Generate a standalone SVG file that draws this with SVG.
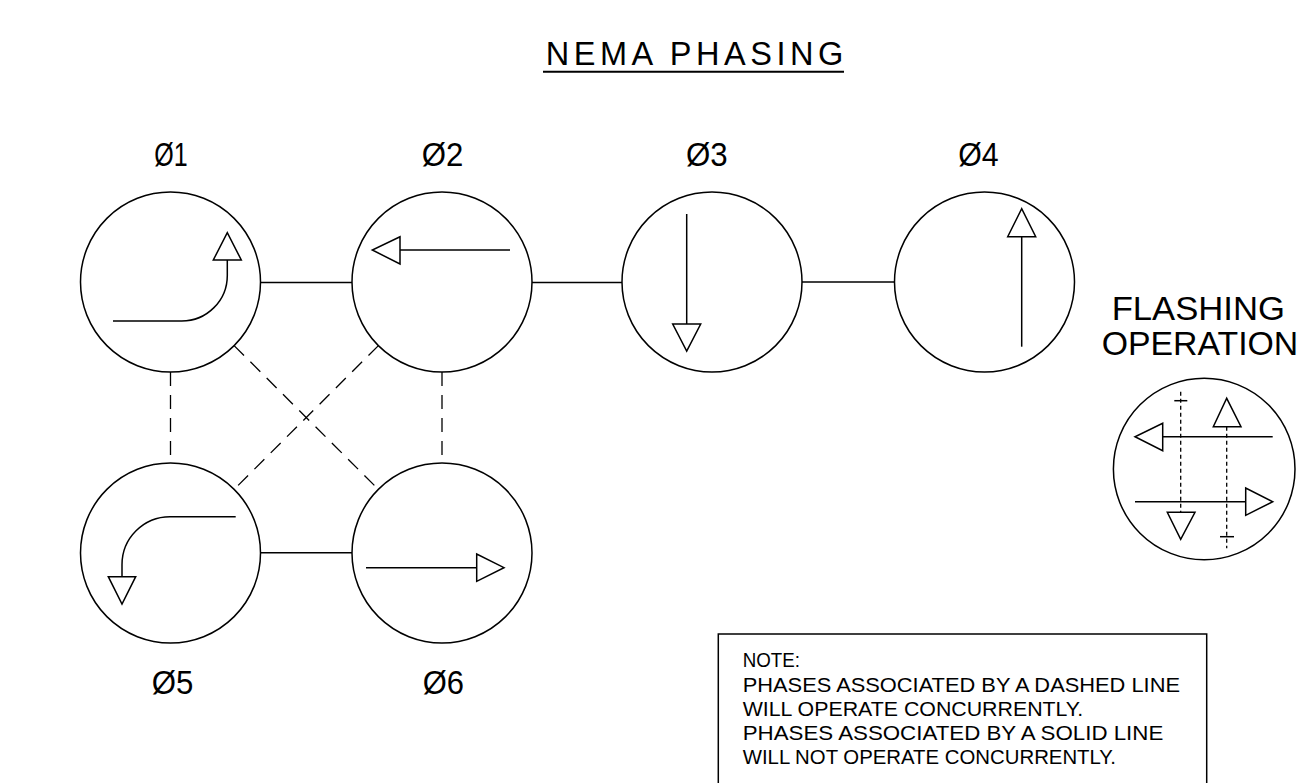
<svg xmlns="http://www.w3.org/2000/svg" width="1315" height="783" viewBox="0 0 1315 783">
<style>
.s{fill:none;stroke:#000;stroke-width:1.5}
.d{fill:none;stroke:#000;stroke-width:1.3;stroke-dasharray:14 9}
.fd{fill:none;stroke:#000;stroke-width:1.3;stroke-dasharray:4 3}
.h{fill:#fff;stroke:#000;stroke-width:1.5;stroke-linejoin:miter}
.lbl{font-family:"Liberation Sans",Arial,sans-serif;font-size:34px;fill:#000}
.note{font-family:"Liberation Sans",Arial,sans-serif;font-size:21px;fill:#000}
</style>
<rect width="1315" height="783" fill="#fff"/>
<g id="title">
<text x="545.7" y="65" font-family="Liberation Sans,Arial,sans-serif" font-size="32.5" textLength="297.6" lengthAdjust="spacing">NEMA PHASING</text>
<line x1="543" y1="71.7" x2="844" y2="71.7" stroke="#000" stroke-width="2"/>
</g>
<g id="connectors">
<line class="s" x1="261" y1="282.5" x2="352" y2="282.5"/>
<line class="s" x1="532" y1="282.5" x2="622" y2="282.5"/>
<line class="s" x1="802" y1="282" x2="894" y2="282"/>
<line class="s" x1="261" y1="552.7" x2="352" y2="552.7"/>
<line class="d" x1="170.5" y1="372" x2="170.5" y2="463"/>
<line class="d" x1="442" y1="372" x2="442" y2="463"/>
<line class="d" x1="234.1" y1="345.6" x2="378.4" y2="489.4"/>
<line class="d" x1="378.4" y1="345.6" x2="234.1" y2="489.4"/>
</g>
<g id="phase1">
<circle class="s" cx="170.5" cy="282" r="90"/>
<path class="s" d="M113 321 H181.7 A45.6 45.6 0 0 0 227.3 275.4 V260"/>
<polygon class="h" points="213.3,260 241.3,260 227.3,232.7"/>
<text class="lbl" x="154.3" y="165.7" textLength="33.4" lengthAdjust="spacingAndGlyphs">Ø1</text>
</g>
<g id="phase2">
<circle class="s" cx="442" cy="282" r="90"/>
<line class="s" x1="510" y1="250" x2="400" y2="250"/>
<polygon class="h" points="400,236.7 400,264 372.3,250"/>
<text class="lbl" x="421.7" y="165.7" textLength="41.6" lengthAdjust="spacingAndGlyphs">Ø2</text>
</g>
<g id="phase3">
<circle class="s" cx="712" cy="282" r="90"/>
<line class="s" x1="686.7" y1="214" x2="686.7" y2="324"/>
<polygon class="h" points="672.7,324 700.7,324 686.7,351"/>
<text class="lbl" x="686" y="165.7" textLength="41.7" lengthAdjust="spacingAndGlyphs">Ø3</text>
</g>
<g id="phase4">
<circle class="s" cx="984.5" cy="282" r="90"/>
<line class="s" x1="1021.7" y1="346.7" x2="1021.7" y2="236.7"/>
<polygon class="h" points="1007.7,236.7 1035.7,236.7 1021.7,208.7"/>
<text class="lbl" x="958.3" y="165.7" textLength="40.4" lengthAdjust="spacingAndGlyphs">Ø4</text>
</g>
<g id="phase5">
<circle class="s" cx="170.5" cy="553" r="90"/>
<path class="s" d="M235.7 516.7 H170 A48 48 0 0 0 122 564.7 V576.7"/>
<polygon class="h" points="108.3,576.7 135.7,576.7 122,604"/>
<text class="lbl" x="151.7" y="694.3" textLength="41.6" lengthAdjust="spacingAndGlyphs">Ø5</text>
</g>
<g id="phase6">
<circle class="s" cx="442" cy="553" r="90"/>
<line class="s" x1="366" y1="567.7" x2="476.7" y2="567.7"/>
<polygon class="h" points="476.7,554 476.7,581.4 504,567.7"/>
<text class="lbl" x="422.7" y="694.3" textLength="41.3" lengthAdjust="spacingAndGlyphs">Ø6</text>
</g>
<g id="flashing">
<text class="lbl" x="1111.7" y="320" textLength="173.3" lengthAdjust="spacingAndGlyphs">FLASHING</text>
<text class="lbl" x="1101.7" y="355" textLength="196.6" lengthAdjust="spacingAndGlyphs">OPERATION</text>
<circle class="s" cx="1204.2" cy="469" r="90.8"/>
<line class="s" x1="1272.7" y1="436.7" x2="1162.7" y2="436.7"/>
<polygon class="h" points="1162.7,423.3 1162.7,450.7 1135,436.7"/>
<line class="s" x1="1135" y1="501.7" x2="1245.7" y2="501.7"/>
<polygon class="h" points="1245.7,488 1245.7,515.3 1272.7,501.7"/>
<line class="fd" x1="1180.7" y1="391.7" x2="1180.7" y2="512.3"/>
<line class="s" x1="1174.3" y1="400.7" x2="1187.3" y2="400.7"/>
<polygon class="h" points="1167.3,512.3 1195,512.3 1180.7,539.3"/>
<line class="fd" x1="1226.7" y1="426.7" x2="1226.7" y2="548.3"/>
<line class="s" x1="1220" y1="536.7" x2="1234" y2="536.7"/>
<polygon class="h" points="1213.3,426.7 1241,426.7 1226.7,398.3"/>
</g>
<g id="note">
<rect class="s" x="718.3" y="634" width="488.4" height="170"/>
<text class="note" x="742.7" y="666.7" textLength="57.3" lengthAdjust="spacingAndGlyphs">NOTE:</text>
<text class="note" x="742.7" y="691.7" textLength="437.3" lengthAdjust="spacingAndGlyphs">PHASES ASSOCIATED BY A DASHED LINE</text>
<text class="note" x="742.7" y="716" textLength="340.6" lengthAdjust="spacingAndGlyphs">WILL OPERATE CONCURRENTLY.</text>
<text class="note" x="742.7" y="740" textLength="420.6" lengthAdjust="spacingAndGlyphs">PHASES ASSOCIATED BY A SOLID LINE</text>
<text class="note" x="742.7" y="764" textLength="373.3" lengthAdjust="spacingAndGlyphs">WILL NOT OPERATE CONCURRENTLY.</text>
</g>
</svg>
